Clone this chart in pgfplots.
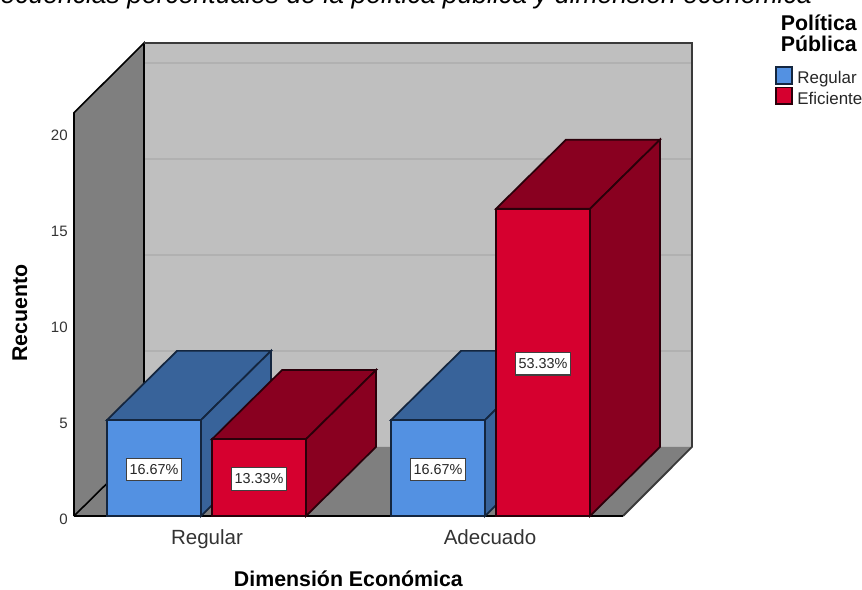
\documentclass[border=0pt]{standalone}
\usepackage{fontspec}
\setmainfont{Liberation Sans}
\usepackage{pgfplots}
\pgfplotsset{compat=1.18}
\definecolor{wallback}{HTML}{BFBFBF}
\definecolor{wallside}{HTML}{7F7F7F}
\definecolor{gridc}{HTML}{B1B1B1}
\definecolor{blueF}{HTML}{5391E2}
\definecolor{blueD}{HTML}{38639A}
\definecolor{blueE}{HTML}{14263F}
\definecolor{redF}{HTML}{D6002F}
\definecolor{redD}{HTML}{890020}
\definecolor{redE}{HTML}{2A000A}
\definecolor{edgeC}{HTML}{3A3A3A}
\begin{document}
\begin{tikzpicture}
\path[use as bounding box,clip] (0,0) rectangle (646.5pt,441.75pt);
\begin{axis}[
  at={(55.5pt,54.75pt)},anchor=south west,
  scale only axis,width=463.5pt,height=354.75pt,
  xmin=74,xmax=692,ymin=0,ymax=24.635,
  clip=false,
  axis line style={draw=none},
  major tick length=0pt,
  xtick={207,490},xticklabels={Regular,Adecuado},
  ytick={0,5,10,15,20},
  /pgf/number format/assume math mode=true,
  yticklabel style={font=\fontsize{11.3}{13}\selectfont,text=black!80,inner sep=0pt,xshift=-4.5pt,yshift=-2.3pt},
  xticklabel style={font=\fontsize{15.4}{18}\selectfont,text=black!80,inner sep=0pt,yshift=-10pt},
  xlabel={Dimensión Económica},
  ylabel={Recuento},
  xlabel style={font=\fontsize{16}{19}\selectfont\bfseries,at={(rel axis cs:0.444,-0.133)},anchor=center,inner sep=0pt},
  ylabel style={font=\fontsize{16}{19}\selectfont\bfseries,at={(rel axis cs:-0.0874,0.429)},anchor=center,inner sep=0pt},
  legend style={at={(rel axis cs:1.1343,0.951)},anchor=north west,draw=none,fill=none,inner sep=0pt,
    font=\fontsize{12.7}{15}\selectfont,row sep=0.5pt,
    nodes={inner sep=0pt,text=black!85},
    /tikz/every odd column/.append style={column sep=3.5pt}},
  legend cell align=left,
  every axis plot/.append style={line join=miter,forget plot},
]
\addlegendimage{legend image code/.code={\draw[draw=blueE,fill=blueF,line width=1.1pt] (0pt,-3.8pt) rectangle (12pt,8.7pt);}}
\addlegendimage{legend image code/.code={\draw[draw=redE,fill=redF,line width=1.1pt] (0pt,-3.8pt) rectangle (12pt,8.7pt);}}
\legend{Regular,Eficiente}

% walls and floor
\addplot[fill=wallback,draw=none] coordinates {(144,3.6) (692,3.6) (692,24.635) (144,24.635)} -- cycle;
\addplot[fill=wallside,draw=none] coordinates {(74,0) (144,3.6) (144,24.635) (74,21)} -- cycle;
\addplot[fill=wallside,draw=none] coordinates {(74,0) (623,0) (692,3.6) (144,3.6)} -- cycle;
% gridlines on back wall
\addplot[gridc,line width=1.1pt] coordinates {(144,8.6) (692,8.6)};
\addplot[gridc,line width=1.1pt] coordinates {(144,13.6) (692,13.6)};
\addplot[gridc,line width=1.1pt] coordinates {(144,18.6) (692,18.6)};
\addplot[gridc,line width=1.1pt] coordinates {(144,23.6) (692,23.6)};
% frame
\addplot[black,line width=1.2pt] coordinates {(74,0) (74,21) (144,24.635) (144,3.6) (74,0)};
\addplot[edgeC,line width=1.4pt] coordinates {(144,24.635) (692,24.635) (692,3.6) (623,0)};
\addplot[black,line width=1.4pt] coordinates {(74,0) (623,0)};

% Regular / Regular = 5
\addplot[fill=blueD,draw=blueE,line width=1.3pt] coordinates {(107,5) (177,8.6) (271,8.6) (201,5)} -- cycle;
\addplot[fill=blueD,draw=blueE,line width=1.3pt] coordinates {(201,0) (271,3.6) (271,8.6) (201,5)} -- cycle;
\addplot[fill=blueF,draw=blueE,line width=1.3pt] coordinates {(107,0) (201,0) (201,5) (107,5)} -- cycle;
% Regular / Eficiente = 4
\addplot[fill=redD,draw=redE,line width=1.3pt] coordinates {(212,4) (282,7.6) (376,7.6) (306,4)} -- cycle;
\addplot[fill=redD,draw=redE,line width=1.3pt] coordinates {(306,0) (376,3.6) (376,7.6) (306,4)} -- cycle;
\addplot[fill=redF,draw=redE,line width=1.3pt] coordinates {(212,0) (306,0) (306,4) (212,4)} -- cycle;
% Adecuado / Regular = 5
\addplot[fill=blueD,draw=blueE,line width=1.3pt] coordinates {(391,5) (461,8.6) (555,8.6) (485,5)} -- cycle;
\addplot[fill=blueD,draw=blueE,line width=1.3pt] coordinates {(485,0) (555,3.6) (555,8.6) (485,5)} -- cycle;
\addplot[fill=blueF,draw=blueE,line width=1.3pt] coordinates {(391,0) (485,0) (485,5) (391,5)} -- cycle;
% Adecuado / Eficiente = 16
\addplot[fill=redD,draw=redE,line width=1.3pt] coordinates {(496,16) (566,19.6) (660,19.6) (590,16)} -- cycle;
\addplot[fill=redD,draw=redE,line width=1.3pt] coordinates {(590,0) (660,3.6) (660,19.6) (590,16)} -- cycle;
\addplot[fill=redF,draw=redE,line width=1.3pt] coordinates {(496,0) (590,0) (590,16) (496,16)} -- cycle;

% percentage labels
\addplot[draw=none,mark=none,point meta=explicit symbolic,
  nodes near coords,
  every node near coord/.style={anchor=center,fill=white,draw=black!75,line width=0.9pt,text=black!85,yshift=-1pt,
    font=\fontsize{10.8}{13}\selectfont,inner xsep=2.4pt,inner ysep=4.6pt}]
  coordinates {(154,2.5) [16.67\%] (259,2) [13.33\%] (438,2.5) [16.67\%] (543,8) [53.33\%]};

% legend title
\node[font=\fontsize{16}{15.75}\selectfont\bfseries,align=center,anchor=center] at (rel axis cs:1.2052,1.021) {Política\\Pública};
% chart title, cut off by the page edge
\node[font=\fontsize{19.9}{24}\selectfont\itshape,anchor=base east,inner sep=0pt] at (rel axis cs:1.1942,1.0835) {Frecuencias porcentuales de la política pública y dimensión económica};
\end{axis}
\end{tikzpicture}
\end{document}
